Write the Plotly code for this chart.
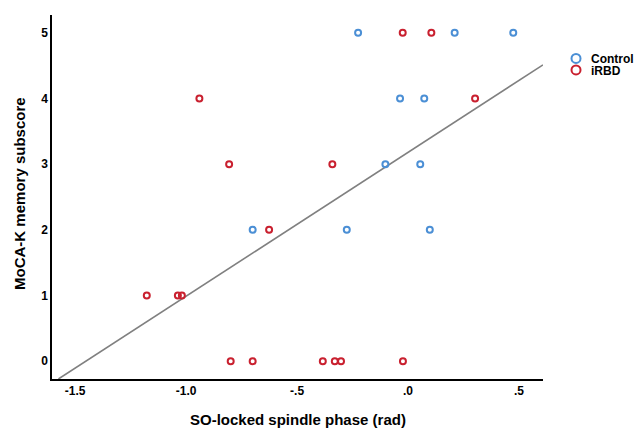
import numpy as np
import plotly.graph_objects as go

# Data
control_x = [-0.225, 0.21, 0.474, -0.036, 0.073, -0.102, 0.055, -0.70, -0.276, 0.098]
control_y = [5, 5, 5, 4, 4, 3, 3, 2, 2, 2]
irbd_x = [-0.024, 0.105, -0.94, 0.302, -0.806, -0.341, -0.626, -1.177, -1.037, -1.019,
          -0.799, -0.70, -0.384, -0.33, -0.302, -0.023]
irbd_y = [5, 5, 4, 4, 3, 3, 2, 1, 1, 1, 0, 0, 0, 0, 0, 0]
group_names = ["Control", "iRBD"]
x_tick_vals = [-1.5, -1.0, -0.5, 0.0, 0.5]
x_tick_text = ["-1.5", "-1.0", "-.5", ".0", ".5"]
y_tick_vals = [0, 1, 2, 3, 4, 5]

BLUE = "#4b8fd5"
RED = "#c9202f"
XR = [-1.604, 0.608]
YR = [-0.27, 5.27]

all_x = np.array(control_x + irbd_x)
all_y = np.array(control_y + irbd_y)
slope, intercept = np.polyfit(all_x, all_y, 1)
x0 = max(XR[0], (YR[0] - intercept) / slope)
x1 = min(XR[1], (YR[1] - intercept) / slope)
fx = [x0, x1]
fy = [intercept + slope * v for v in fx]

fig = go.Figure()
fig.add_trace(go.Scatter(x=fx, y=fy, mode="lines", line=dict(color="#808080", width=1.6),
                         showlegend=False, hoverinfo="skip"))
fig.add_trace(go.Scatter(x=control_x, y=control_y, mode="markers", showlegend=False, name=group_names[0],
                         marker=dict(symbol="circle-open", size=6, color=BLUE, line=dict(width=2, color=BLUE))))
fig.add_trace(go.Scatter(x=irbd_x, y=irbd_y, mode="markers", showlegend=False, name=group_names[1],
                         marker=dict(symbol="circle-open", size=6, color=RED, line=dict(width=2, color=RED))))
# legend glyphs (text placed as annotations for tight spacing)
fig.add_trace(go.Scatter(x=[None], y=[None], mode="markers", name=" ", legend="legend",
                         marker=dict(symbol="circle-open", size=9, color=BLUE, line=dict(width=2, color=BLUE))))
fig.add_trace(go.Scatter(x=[None], y=[None], mode="markers", name=" ", legend="legend2",
                         marker=dict(symbol="circle-open", size=9, color=RED, line=dict(width=2, color=RED))))

font_family = "Liberation Sans, Arial, sans-serif"
leg_common = dict(xanchor="left", yanchor="top", font=dict(size=13, family=font_family),
                  itemwidth=30, bgcolor="rgba(0,0,0,0)")
fig.update_layout(
    width=635, height=429,
    margin=dict(l=52, r=92, t=15, b=50, autoexpand=False),
    paper_bgcolor="white", plot_bgcolor="white",
    font=dict(family=font_family, color="black"),
    legend=dict(x=1.0265, y=0.9217, **leg_common),
    legend2=dict(x=1.0265, y=0.8901, **leg_common),
    xaxis=dict(range=XR, tickvals=x_tick_vals, ticktext=x_tick_text, showgrid=False, zeroline=False,
               showline=True, linecolor="black", linewidth=1.5, ticks="", automargin=False,
               tickfont=dict(size=12, weight="bold")),
    yaxis=dict(range=YR, tickvals=y_tick_vals, showgrid=False, zeroline=False,
               showline=True, linecolor="black", linewidth=1.5, ticks="", automargin=False,
               tickfont=dict(size=12, weight="bold")),
    annotations=[
        dict(text="SO-locked spindle phase (rad)", xref="paper", yref="paper", x=0.5, y=-0.112,
             xanchor="center", yanchor="middle", showarrow=False, font=dict(size=15, weight="bold")),
        dict(text="MoCA-K memory subscore", xref="paper", yref="paper", x=-0.066, y=0.51,
             xanchor="center", yanchor="middle", textangle=-90, showarrow=False,
             font=dict(size=15, weight="bold")),
        dict(text=group_names[0], xref="paper", yref="paper", x=1.0957, y=0.879,
             xanchor="left", yanchor="middle", showarrow=False, borderpad=0,
             font=dict(size=12, weight="bold")),
        dict(text=group_names[1], xref="paper", yref="paper", x=1.0957, y=0.8475,
             xanchor="left", yanchor="middle", showarrow=False, borderpad=0,
             font=dict(size=12, weight="bold")),
    ],
)
fig.write_html("out.html", config={"displayModeBar": False},
               post_script="document.body.style.margin='0';")
